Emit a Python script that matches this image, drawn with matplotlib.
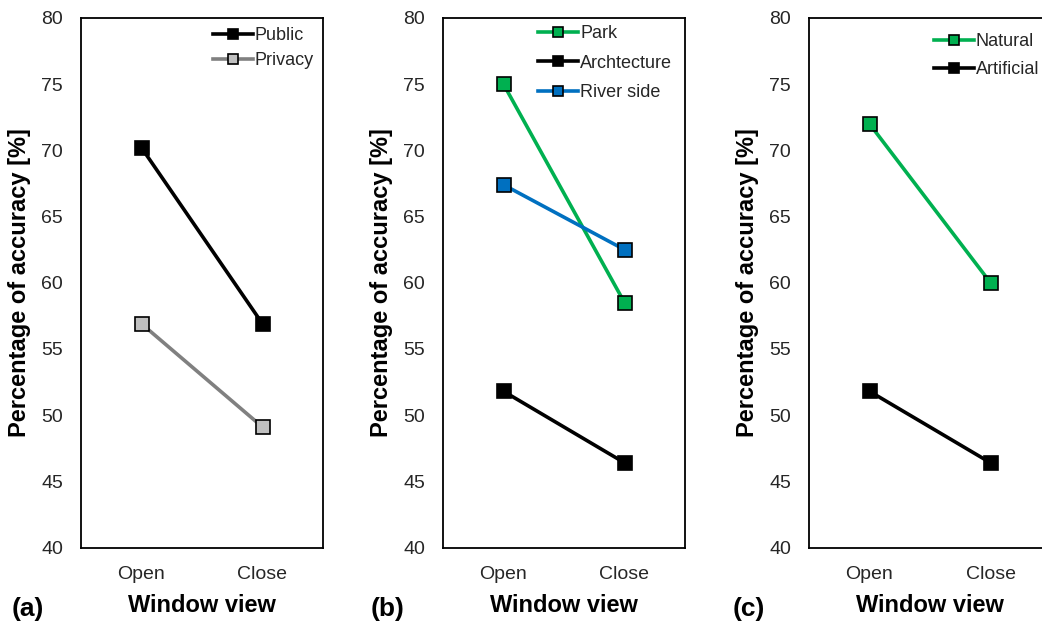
import matplotlib
matplotlib.use("Agg")
import matplotlib.pyplot as plt

plt.rcParams['font.family'] = ['Liberation Sans', 'DejaVu Sans']

categories = ["Open", "Close"]

# Panel (a)
public = [70.2, 56.9]
privacy = [56.9, 49.1]
# Panel (b)
park = [75.0, 58.5]
archtecture = [51.8, 46.4]
river_side = [67.4, 62.5]
# Panel (c)
natural = [72.0, 60.0]
artificial = [51.8, 46.4]

yticks = [40, 45, 50, 55, 60, 65, 70, 75, 80]

W, H = 1042, 623
fig = plt.figure(figsize=(W / 100, H / 100), dpi=100)

GREEN = "#00B050"
BLUE = "#0070C0"
TXT = "#262626"

def px_axes(left, right, top, bottom):
    return fig.add_axes([left / W, 1 - bottom / H, (right - left) / W, (bottom - top) / H])

panels = [
    dict(box=(81, 323, 18, 547.5), letter="(a)", letter_x=12,
         series=[(public, "Public", "black", "black", "black"),
                 (privacy, "Privacy", "#808080", "#C0C0C0", "black")],
         leg_anchor=(314, 27), spacing=0.45),
    dict(box=(443, 685, 18, 547.5), letter="(b)", letter_x=371,
         series=[(park, "Park", GREEN, GREEN, "black"),
                 (archtecture, "Archtecture", "black", "black", "black"),
                 (river_side, "River side", BLUE, BLUE, "black")],
         leg_anchor=(672, 25), spacing=0.7),
    dict(box=(809, 1051, 18, 547.5), letter="(c)", letter_x=733,
         series=[(natural, "Natural", GREEN, GREEN, "black"),
                 (artificial, "Artificial", "black", "black", "black")],
         leg_anchor=(1039, 33), spacing=0.6),
]

for p in panels:
    l, r, t, b = p["box"]
    ax = px_axes(l, r, t, b)
    x = list(range(len(categories)))
    for vals, label, lc, fc, ec in p["series"]:
        ax.plot(x, vals, color=lc, lw=2.6, marker="s", markersize=10.5,
                markerfacecolor=fc, markeredgecolor=ec, markeredgewidth=1.2,
                label=label)
    ax.set_xlim(-0.5, 1.5)
    ax.set_ylim(40, 80)
    ax.set_yticks(yticks)
    ax.set_xticks(x)
    ax.set_xticklabels(categories)
    ax.tick_params(axis="both", length=0, labelsize=14, labelcolor=TXT)
    ax.tick_params(axis="y", pad=13)
    ax.tick_params(axis="x", pad=13)
    for s in ax.spines.values():
        s.set_linewidth(1.3)
        s.set_color("black")
    ax.set_ylabel("Percentage of accuracy [%]", fontsize=17, fontweight="bold", color="black")
    ax.yaxis.set_label_coords(-0.205, 0.5)
    ax.set_xlabel("Window view", fontsize=17, fontweight="bold", color="black")
    ax.xaxis.set_label_coords(0.5, -0.088)
    fig.text(p["letter_x"] / W, 1 - 609 / H, p["letter"], fontsize=19, fontweight="bold",
             va="center", ha="left")
    ax_x, ax_y = p["leg_anchor"]
    leg_handles, leg_labels = ax.get_legend_handles_labels()
    ax.legend(leg_handles, leg_labels, loc="upper right",
              bbox_to_anchor=(ax_x / W, 1 - ax_y / H), bbox_transform=fig.transFigure,
              frameon=False, fontsize=13, handlelength=2.2, handletextpad=0.1,
              labelspacing=p["spacing"], borderpad=0.0, borderaxespad=0.0,
              markerscale=0.7, labelcolor=TXT)

fig.savefig("out.png", dpi=100)
